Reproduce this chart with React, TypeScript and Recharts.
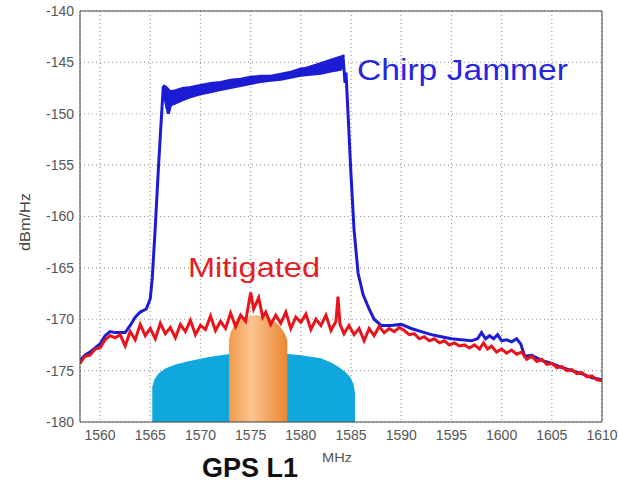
import {
  ComposedChart, Line, Area, XAxis, YAxis, CartesianGrid, ReferenceLine,
} from 'recharts'

// frequency axis (MHz) and level axis (dBm/Hz)
const freqTicks = [1560, 1565, 1570, 1575, 1580, 1585, 1590, 1595, 1600, 1605, 1610]
const levelTicks = [-180, -175, -170, -165, -160, -155, -150, -145, -140]

// chirp jammer spectrum, unmitigated
const chirpFreq = [
  1558.0, 1558.5, 1559.0, 1559.5, 1560.0, 1560.5, 1561.0, 1561.5, 1562.0, 1562.5,
  1563.0, 1563.5, 1564.0, 1564.6, 1565.0, 1565.2, 1565.5, 1565.8, 1566.1, 1566.3,
  1566.8, 1567.1, 1572.0, 1578.0, 1584.2, 1584.4, 1584.5, 1584.7, 1585.0, 1585.3,
  1585.7, 1586.2, 1586.8, 1587.3, 1588.0, 1589.0, 1590.0, 1591.0, 1592.0, 1593.0,
  1594.0, 1595.0, 1596.0, 1597.0, 1597.6, 1598.0, 1598.4, 1598.8, 1599.2, 1599.6,
  1600.0, 1600.5, 1601.0, 1601.5, 1601.9, 1602.3, 1603.0, 1604.0, 1605.0, 1606.0,
  1607.0, 1608.0, 1609.0, 1610.0,
]
const chirpLevel = [
  -174.0, -173.5, -173.2, -172.8, -172.4, -171.6, -171.2, -171.3, -171.3, -171.3,
  -170.6, -169.8, -169.3, -169.0, -168.0, -166.0, -161.0, -155.5, -150.5, -147.3,
  -150.0, -148.8, -147.3, -146.4, -144.4, -147.0, -146.0, -150.0, -156.0, -161.3,
  -165.5, -167.6, -169.0, -170.0, -170.6, -170.6, -170.5, -170.9, -171.2, -171.5,
  -171.7, -171.9, -172.0, -172.1, -171.9, -171.3, -171.9, -171.6, -171.9, -171.5,
  -172.1, -172.0, -172.2, -171.9, -172.4, -173.6, -173.5, -174.0, -174.3, -174.7,
  -175.0, -175.3, -175.7, -175.9,
]

// spread of the swept chirp across the band
const chirpBandFreq = [
  1566.3, 1566.6, 1567.0, 1567.5, 1568.2, 1569.0, 1570.0, 1571.0, 1572.0, 1573.0,
  1574.0, 1575.0, 1576.0, 1577.0, 1578.0, 1579.0, 1580.0, 1581.0, 1582.0, 1583.0,
  1583.6, 1584.0, 1584.3,
]
const chirpBandHigh = [
  -147.2, -147.4, -147.8, -147.7, -147.5, -147.4, -147.2, -147.0, -146.9, -146.7,
  -146.6, -146.4, -146.3, -146.3, -146.1, -145.9, -145.6, -145.5, -145.3, -145.0,
  -144.8, -144.6, -144.3,
]
const chirpBandLow = [
  -147.8, -149.4, -149.2, -149.0, -148.7, -148.4, -148.1, -147.9, -147.7, -147.5,
  -147.3, -147.1, -146.9, -146.8, -146.7, -146.5, -146.3, -146.2, -146.1, -145.9,
  -145.8, -145.7, -145.2,
]

// spectrum after mitigation
const mitigatedFreq = [
  1558.0, 1558.5, 1559.0, 1559.5, 1560.0, 1560.5, 1561.0, 1561.5, 1562.0, 1562.5,
  1563.0, 1563.5, 1564.0, 1564.5, 1565.0, 1565.5, 1566.0, 1566.5, 1567.0, 1567.5,
  1568.0, 1568.5, 1569.0, 1569.5, 1570.0, 1570.5, 1571.0, 1571.5, 1572.0, 1572.5,
  1573.0, 1573.5, 1574.0, 1574.5, 1575.0, 1575.3, 1575.8, 1576.2, 1576.5, 1577.0,
  1577.5, 1578.0, 1578.5, 1579.0, 1579.5, 1580.0, 1580.5, 1581.0, 1581.5, 1582.0,
  1582.5, 1583.0, 1583.5, 1583.7, 1583.9, 1584.3, 1584.8, 1585.3, 1585.8, 1586.3,
  1586.8, 1587.3, 1587.8, 1588.3, 1588.8, 1589.3, 1589.8, 1590.3, 1590.8, 1591.3,
  1591.8, 1592.3, 1592.8, 1593.3, 1593.8, 1594.3, 1594.8, 1595.3, 1595.8, 1596.3,
  1596.8, 1597.3, 1597.8, 1598.2, 1598.6, 1599.0, 1599.5, 1600.0, 1600.5, 1601.0,
  1601.5, 1602.0, 1602.5, 1603.0, 1603.5, 1604.0, 1604.5, 1605.0, 1605.5, 1606.0,
  1606.5, 1607.0, 1607.5, 1608.0, 1608.5, 1609.0, 1609.5, 1610.0,
]
const mitigatedLevel = [
  -174.3, -173.6, -173.5, -172.9, -172.8, -172.0, -171.6, -171.8, -171.5, -172.6,
  -171.2, -172.0, -170.5, -171.6, -170.9, -171.9, -170.4, -171.4, -170.8, -171.8,
  -170.5, -171.2, -170.1, -171.5, -170.6, -171.0, -169.7, -171.1, -170.2, -170.9,
  -169.4, -170.7, -169.6, -170.2, -167.4, -169.0, -167.9, -169.8, -169.3, -170.5,
  -169.6, -170.4, -169.3, -170.9, -169.8, -170.3, -169.5, -171.0, -170.0, -170.6,
  -169.6, -171.1, -170.2, -167.8, -170.5, -171.4, -170.6, -171.5, -170.9, -172.1,
  -170.9, -171.6, -170.7, -171.3, -170.9, -171.2, -170.8, -171.1, -171.5, -171.4,
  -171.9, -171.7, -172.1, -171.9, -172.3, -172.1, -172.5, -172.3, -172.6, -172.5,
  -172.8, -172.5, -172.9, -172.3, -172.9, -172.6, -173.2, -172.9, -173.3, -173.0,
  -173.4, -173.2, -173.9, -173.6, -174.1, -173.9, -174.4, -174.3, -174.7, -174.6,
  -175.0, -174.9, -175.3, -175.2, -175.6, -175.5, -175.9, -176.0,
]

// P(Y) code signal outline
const pyFreq = [
  1565.2, 1565.2, 1565.4, 1565.8, 1566.5, 1567.5, 1568.7, 1570.7, 1572.7, 1575.0,
  1578.0, 1580.0, 1582.0, 1583.0, 1583.7, 1584.4, 1584.9, 1585.25, 1585.4, 1585.4,
]
const pyLevel = [
  -180.0, -176.6, -175.9, -175.3, -174.8, -174.4, -174.1, -173.7, -173.4, -173.3,
  -173.3, -173.5, -173.8, -174.2, -174.6, -175.1, -175.6, -176.3, -177.2, -180.0,
]

// C/A code signal outline
const caFreq = [
  1572.85, 1572.85, 1573.0, 1573.3, 1573.7, 1574.2, 1574.8, 1575.5, 1576.2, 1576.9,
  1577.5, 1578.0, 1578.4, 1578.65, 1578.65,
]
const caLevel = [
  -180.0, -172.0, -171.3, -170.7, -170.2, -169.9, -169.7, -169.6, -169.7, -169.9,
  -170.3, -170.8, -171.4, -172.0, -180.0,
]

const chirpData = chirpFreq.map((f, i) => ({ f, db: chirpLevel[i] }))
const bandData = chirpBandFreq.map((f, i) => ({ f, band: [chirpBandLow[i], chirpBandHigh[i]] }))
const mitigatedData = mitigatedFreq.map((f, i) => ({ f, db: mitigatedLevel[i] }))
const pyData = pyFreq.map((f, i) => ({ f, db: pyLevel[i] }))
const caData = caFreq.map((f, i) => ({ f, db: caLevel[i] }))

const FONT = '"Liberation Sans", Arial, sans-serif'
const BLUE = '#1c1cd4'
const RED = '#e8141c'

export default function App() {
  return (
    <div style={{ position: 'absolute', left: 0, top: 0, width: 618, height: 482, background: '#fff' }}>
      <ComposedChart
        width={618}
        height={482}
        margin={{ top: 11, right: 16, bottom: 0, left: 0 }}
        style={{ fontFamily: FONT }}
      >
        <defs>
          <linearGradient id="caFill" x1="0" y1="0" x2="1" y2="0">
            <stop offset="0%" stopColor="#f29a4c" />
            <stop offset="38%" stopColor="#fbc48f" />
            <stop offset="100%" stopColor="#ec8533" />
          </linearGradient>
        </defs>
        <CartesianGrid stroke="#9a9a9a" strokeDasharray="1 3" strokeWidth={1.2} />
        <XAxis
          dataKey="f"
          type="number"
          domain={[1558, 1610]}
          ticks={freqTicks}
          allowDataOverflow
          height={60}
          tickLine={false}
          tickSize={6}
          tickMargin={2}
          axisLine={{ stroke: '#444' }}
          tick={{ fontSize: 14, fill: '#555', fontFamily: FONT }}
        />
        <YAxis
          type="number"
          domain={[-180, -140]}
          ticks={levelTicks}
          allowDataOverflow
          width={80}
          tickLine={false}
          tickSize={4}
          tickMargin={2}
          axisLine={{ stroke: '#444' }}
          tick={{ fontSize: 14, fill: '#555', fontFamily: FONT }}
        />
        <ReferenceLine y={-140} stroke="#444" />
        <ReferenceLine x={1610} stroke="#444" />

        <Area
          data={bandData}
          dataKey="band"
          type="linear"
          stroke={BLUE}
          strokeWidth={2}
          fill={BLUE}
          fillOpacity={1}
          isAnimationActive={false}
        />
        <Line
          data={chirpData}
          dataKey="db"
          type="linear"
          stroke={BLUE}
          strokeWidth={3}
          dot={false}
          isAnimationActive={false}
        />
        <Line
          data={mitigatedData}
          dataKey="db"
          type="linear"
          stroke={RED}
          strokeWidth={3}
          dot={false}
          isAnimationActive={false}
        />
        <Area
          data={pyData}
          dataKey="db"
          type="linear"
          baseValue={-180}
          stroke="none"
          fill="#0fa7de"
          fillOpacity={1}
          isAnimationActive={false}
        />
        <Area
          data={caData}
          dataKey="db"
          type="linear"
          baseValue={-180}
          stroke="none"
          fill="url(#caFill)"
          fillOpacity={1}
          isAnimationActive={false}
        />

        <text x={357} y={80} fontSize={29} textLength={211} lengthAdjust="spacingAndGlyphs" fill="#2626dc" fontFamily={FONT}>Chirp Jammer</text>
        <text x={188} y={277} fontSize={28} textLength={132} lengthAdjust="spacingAndGlyphs" fill="#e41e26" fontFamily={FONT}>Mitigated</text>
        <text x={167} y={403} fontSize={24} textLength={56} lengthAdjust="spacingAndGlyphs" fill="#14202e" fontFamily={FONT}>P(Y)</text>
        <text x={230} y={380} fontSize={28} textLength={50} lengthAdjust="spacingAndGlyphs" fill="#3b2410" fontFamily={FONT}>C/A</text>
        <text x={202} y={477} fontSize={27} fontWeight="bold" fill="#111" fontFamily={FONT}>GPS L1</text>
        <text x={322} y={462} fontSize={13} textLength={30} lengthAdjust="spacingAndGlyphs" fill="#555" fontFamily={FONT}>MHz</text>
        <text
          x={30}
          y={222}
          fontSize={14}
          textLength={58}
          lengthAdjust="spacingAndGlyphs"
          fill="#444"
          textAnchor="middle"
          transform="rotate(-90 30 222)"
          fontFamily={FONT}
        >
          dBm/Hz
        </text>
      </ComposedChart>
    </div>
  )
}
